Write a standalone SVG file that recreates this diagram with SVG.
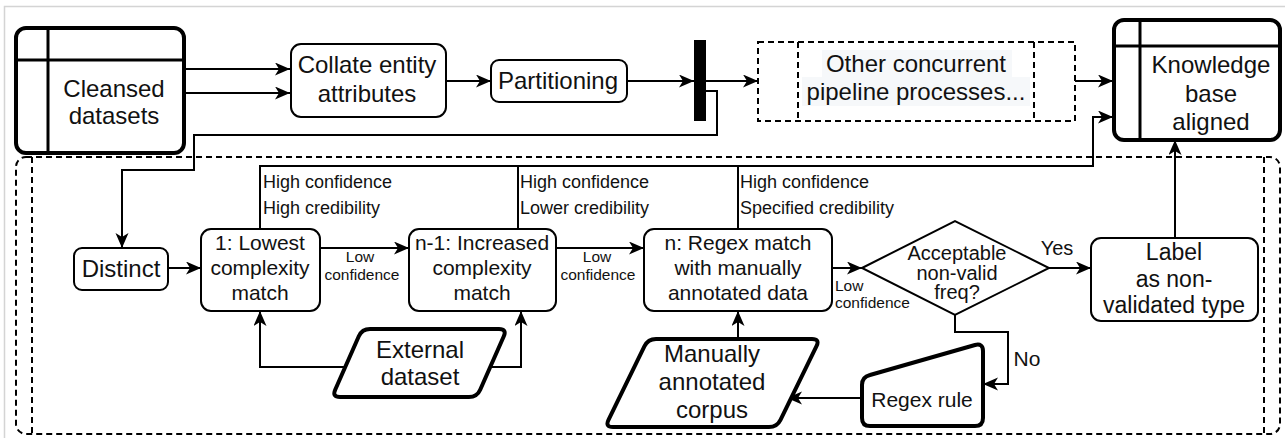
<svg xmlns="http://www.w3.org/2000/svg" width="1285" height="438" viewBox="0 0 1285 438">
<defs>
<marker id="arr" markerUnits="userSpaceOnUse" markerWidth="16" markerHeight="14" refX="15" refY="6.5" orient="auto">
<path d="M0,0 L15,6.5 L0,13 L4,6.5 Z" fill="#000"/>
</marker>
<style>
text{font-family:"Liberation Sans",Arial,sans-serif;fill:#111;text-anchor:middle}
.box{fill:#fff;stroke:#000;stroke-width:2}
.thick{fill:#fff;stroke:#000;stroke-width:4}
.dash{fill:none;stroke:#000;stroke-width:2;stroke-dasharray:6 4}
.ln{fill:none;stroke:#000;stroke-width:2}
.ar{fill:none;stroke:#000;stroke-width:2;marker-end:url(#arr)}
.t24{font-size:24px}
.t21{font-size:21px}
.t18{font-size:18px;text-anchor:start}
.t16{font-size:15.5px}
</style>
</defs>
<rect x="0" y="0" width="1285" height="438" fill="#fff"/>
<rect x="4.5" y="6.5" width="1300" height="440" fill="none" stroke="#d4d4d4" stroke-width="1.5"/>

<g id="container">
<rect x="16" y="157" width="1264" height="277" rx="10" class="dash"/>
<line x1="32" y1="157" x2="32" y2="434" class="dash"/>
<line x1="1264" y1="157" x2="1264" y2="434" class="dash"/>
</g>

<g id="connectors">
<path d="M184,69 H290" class="ar"/>
<path d="M184,93 H290" class="ar"/>
<path d="M446,81 H491" class="ar"/>
<path d="M627,81 H694" class="ar"/>
<path d="M706,81 H758" class="ar"/>
<path d="M1075,81 H1113" class="ar"/>
<path d="M706,91 H717 V135 H194 V170 H122 V248" class="ar"/>
<path d="M168,268 H201" class="ar"/>
<path d="M320,248 H409" class="ar"/>
<path d="M556,248 H644" class="ar"/>
<path d="M832,268 H862" class="ar"/>
<path d="M1049,268 H1091" class="ar"/>
<path d="M260,229 V166 H1093 V117 H1113" class="ar"/>
<path d="M518,229 V166" class="ln"/>
<path d="M738,229 V166" class="ln"/>
<path d="M1175,238 V140" class="ar"/>
<path d="M345,367 H260 V311" class="ar"/>
<path d="M490,367 H521 V311" class="ar"/>
<path d="M738,339 V311" class="ar"/>
<path d="M955,315 V332 H1008 V384 H983" class="ar"/>
<path d="M862,398 H787" class="ar"/>
<text class="t18" x="263" y="188">High confidence</text>
<text class="t18" x="263" y="214">High credibility</text>
<text class="t18" x="520" y="188">High confidence</text>
<text class="t18" x="520" y="214">Lower credibility</text>
<text class="t18" x="740" y="188">High confidence</text>
<text class="t18" x="740" y="214">Specified credibility</text>
<text class="t16" x="360" y="262">Low</text>
<text class="t16" x="362" y="280">confidence</text>
<text class="t16" x="597" y="262">Low</text>
<text class="t16" x="598" y="280">confidence</text>
<text class="t16" x="835" y="291" style="text-anchor:start">Low</text>
<text class="t16" x="835" y="308" style="text-anchor:start">confidence</text>
<text x="1057" y="255" style="font-size:20px">Yes</text>
<text x="1027" y="366" style="font-size:21px">No</text>
</g>

<g id="cleansed">
<rect x="16" y="28" width="168" height="125" rx="10" class="thick"/>
<line x1="16" y1="60" x2="184" y2="60" stroke="#000" stroke-width="3"/>
<line x1="48" y1="28" x2="48" y2="153" stroke="#000" stroke-width="3"/>
<text class="t24" x="114" y="97">Cleansed</text>
<text class="t24" x="114" y="124">datasets</text>
</g>

<g id="collate">
<rect x="291" y="44" width="155" height="73" rx="10" class="box"/>
<text class="t24" x="367" y="73">Collate entity</text>
<text class="t24" x="367" y="102">attributes</text>
</g>

<g id="partitioning">
<rect x="491" y="60" width="136" height="42" rx="8" class="box"/>
<text class="t24" x="558" y="89">Partitioning</text>
</g>

<g id="fork">
<rect x="694" y="40" width="12" height="81" fill="#000"/>
</g>

<g id="other">
<rect x="758" y="42" width="317" height="79" class="dash"/>
<line x1="798" y1="42" x2="798" y2="121" class="dash"/>
<line x1="1034" y1="42" x2="1034" y2="121" class="dash"/>
<rect x="822" y="50" width="190" height="27" fill="#f6f8fa"/>
<rect x="802" y="77" width="228" height="29" fill="#f6f8fa"/>
<text class="t24" x="916" y="72">Other concurrent</text>
<text class="t24" x="916" y="100">pipeline processes...</text>
</g>

<g id="knowledge">
<rect x="1114" y="20" width="166" height="120" rx="10" class="thick"/>
<line x1="1114" y1="46" x2="1280" y2="46" stroke="#000" stroke-width="3"/>
<line x1="1140" y1="20" x2="1140" y2="140" stroke="#000" stroke-width="3"/>
<text class="t24" x="1211" y="73">Knowledge</text>
<text class="t24" x="1211" y="102">base</text>
<text class="t24" x="1211" y="130">aligned</text>
</g>

<g id="distinct">
<rect x="74" y="248" width="94" height="42" rx="8" class="box"/>
<text class="t24" x="121" y="277">Distinct</text>
</g>

<g id="match1">
<rect x="201" y="229" width="119" height="82" rx="10" class="box"/>
<text class="t21" x="260" y="250">1: Lowest</text>
<text class="t21" x="260" y="275">complexity</text>
<text class="t21" x="260" y="300">match</text>
</g>

<g id="matchn1">
<rect x="409" y="229" width="147" height="82" rx="10" class="box"/>
<text class="t21" x="482" y="250">n-1: Increased</text>
<text class="t21" x="482" y="275">complexity</text>
<text class="t21" x="482" y="300">match</text>
</g>

<g id="matchn">
<rect x="644" y="229" width="188" height="82" rx="10" class="box"/>
<text class="t21" x="738" y="250">n: Regex match</text>
<text class="t21" x="738" y="275">with manually</text>
<text class="t21" x="738" y="300">annotated data</text>
</g>

<g id="decision">
<path d="M862,268 L955,221 L1049,268 L955,315 Z" class="box"/>
<text x="957" y="260" style="font-size:20px">Acceptable</text>
<text x="957" y="279.5" style="font-size:20px">non-valid</text>
<text x="957" y="299" style="font-size:20px">freq?</text>
</g>

<g id="label">
<rect x="1091" y="238" width="167" height="83" rx="10" class="box"/>
<text x="1174" y="260" style="font-size:23px">Label</text>
<text x="1174" y="287" style="font-size:23px">as non-</text>
<text x="1174" y="313" style="font-size:23px">validated type</text>
</g>

<g id="external">
<path d="M370,329 L499,329 Q507,329 503.8,336.3 L480.2,389.7 Q477,397 469,397 L340,397 Q332,397 335.2,389.7 L358.8,336.3 Q362,329 370,329 Z" class="thick"/>
<text class="t24" x="420" y="358">External</text>
<text class="t24" x="420" y="385">dataset</text>
</g>

<g id="corpus">
<path d="M656,339 L812,339 Q820,339 816.5,346.2 L780.5,419.8 Q777,427 769,427 L613,427 Q605,427 608.5,419.8 L644.5,346.2 Q648,339 656,339 Z" class="thick"/>
<text class="t24" x="712" y="362">Manually</text>
<text class="t24" x="712" y="390">annotated</text>
<text class="t24" x="712" y="418">corpus</text>
</g>

<g id="regexrule">
<path d="M862,385 Q862,377 870,375 L975,345 Q983,343 983,351 L983,418 Q983,426 975,426 L870,426 Q862,426 862,418 Z" class="thick"/>
<text x="922" y="407" style="font-size:21px">Regex rule</text>
</g>
</svg>
